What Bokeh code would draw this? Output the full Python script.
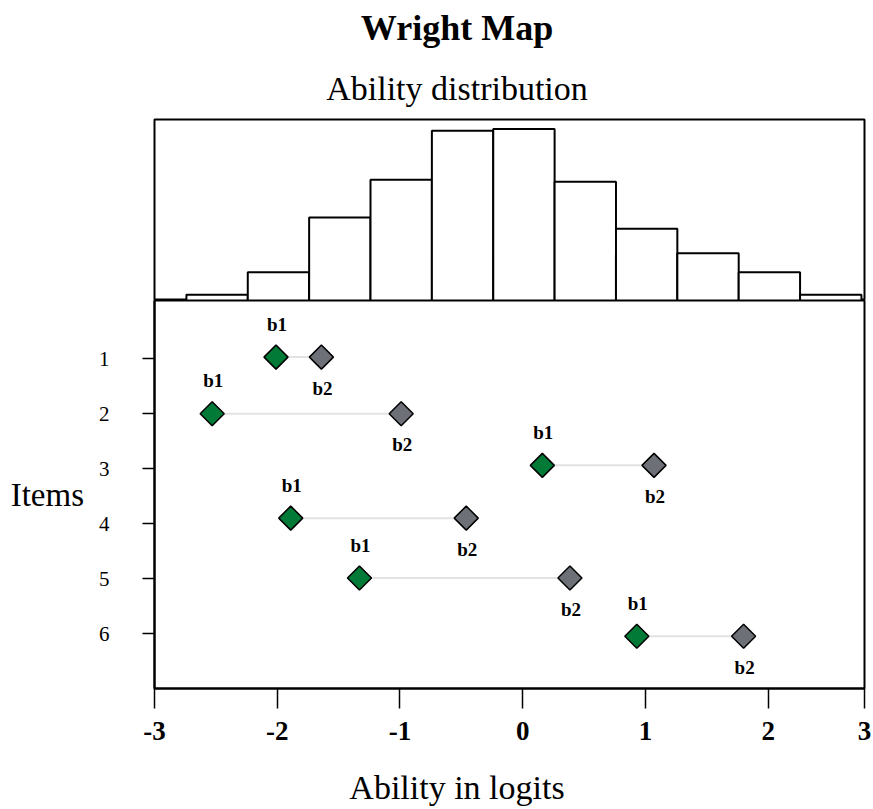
import numpy as np
from bokeh.plotting import figure
from bokeh.models import Range1d, FixedTicker, ColumnDataSource
from bokeh.layouts import column
from bokeh.embed import file_html
from bokeh.resources import INLINE
from bokeh.core.properties import value

# ---------------- data ----------------
TITLE = "Wright Map"
SUBTITLE = "Ability distribution"
X_LABEL = "Ability in logits"
Y_LABEL = "Items"

hist_edges = [-2.74, -2.24, -1.74, -1.24, -0.74, -0.24, 0.26, 0.76, 1.26, 1.76, 2.26, 2.76]
hist_counts = [3, 15, 44, 64, 90, 91, 63, 38, 25, 15, 3]
hist_ymax = 96

items = [1, 2, 3, 4, 5, 6]
item_y = [0.97, 2.0, 2.94, 3.9, 4.99, 6.05]
b1 = [-2.01, -2.53, 0.16, -1.89, -1.33, 0.93]
b2 = [-1.64, -0.99, 1.07, -0.46, 0.385, 1.80]
b1_text = ["b1"] * 6
b2_text = ["b2"] * 6

x_min, x_max = -3, 2.785
x_ticks = [-3, -2, -1, 0, 1, 2, 2.785]
x_tick_labels = ["-3", "-2", "-1", "0", "1", "2", "3"]

# ---------------- style ----------------
FONT = "Liberation Serif"
GREEN = "#007a36"
GREY = "#6e7078"
W = 872
ML, MR = 154, 8
HEADER_H = 117
FOOTER_H = 48
TEXT_X = 456.5   # horizontal centre of the titles / x label (page px)


def text_strip(height):
    """A blank strip (frame aligned with the plots) used for free text in pixel coordinates."""
    f = figure(width=W, height=height, x_range=Range1d(ML, W - MR), y_range=Range1d(height, 0),
               output_backend="svg", toolbar_location=None,
               x_axis_location=None, y_axis_location=None,
               min_border_left=ML, min_border_right=MR, min_border_top=0, min_border_bottom=0)
    f.grid.visible = False
    f.outline_line_color = None
    f.background_fill_color = "white"
    f.border_fill_color = "white"
    return f


xr = Range1d(x_min, x_max)

# ---------------- header: title + subtitle ----------------
header = text_strip(HEADER_H)
header.text(x=[TEXT_X], y=[27.5], text=[TITLE], text_align="center", text_baseline="alphabetic",
            text_font=value(FONT), text_font_style="bold", text_font_size="36px", text_color="black")
header.text(x=[TEXT_X], y=[87.5], text=[SUBTITLE], text_align="center", text_baseline="alphabetic",
            text_font=value(FONT), text_font_size="34px", text_color="black")

# ---------------- histogram ----------------
top = figure(width=W, height=183, x_range=xr, y_range=Range1d(0, hist_ymax),
             output_backend="svg", toolbar_location=None,
             x_axis_location=None, y_axis_location=None,
             min_border_left=ML, min_border_right=MR,
             min_border_top=2, min_border_bottom=0)
top.grid.visible = False
top.outline_line_color = "black"
top.outline_line_width = 2
top.background_fill_color = "white"
top.border_fill_color = "white"

hsrc = ColumnDataSource(dict(left=hist_edges[:-1], right=hist_edges[1:], top=hist_counts))
top.quad(left="left", right="right", bottom=0, top="top", source=hsrc,
         fill_color="white", line_color="black", line_width=2)

# ---------------- items panel ----------------
p = figure(width=W, height=460, x_range=xr, y_range=Range1d(7, -0.06),
           output_backend="svg", toolbar_location=None,
           min_border_left=ML, min_border_right=MR,
           min_border_top=0, min_border_bottom=72)
p.grid.visible = False
p.outline_line_color = "black"
p.outline_line_width = 2
p.background_fill_color = "white"
p.border_fill_color = "white"

p.xaxis.ticker = FixedTicker(ticks=x_ticks)
p.xaxis.major_label_overrides = {float(t): l for t, l in zip(x_ticks, x_tick_labels)}
p.xaxis.minor_tick_line_color = None
p.xaxis.major_tick_in = 0
p.xaxis.major_tick_out = 20
p.xaxis.major_tick_line_width = 1.5
p.xaxis.axis_line_width = 2
p.xaxis.major_label_standoff = 13
p.xaxis.major_label_text_font = FONT
p.xaxis.major_label_text_font_style = "bold"
p.xaxis.major_label_text_font_size = "27px"
p.xaxis.major_label_text_color = "black"

p.yaxis.ticker = FixedTicker(ticks=items)
p.yaxis.minor_tick_line_color = None
p.yaxis.major_tick_in = 0
p.yaxis.major_tick_out = 12
p.yaxis.major_tick_line_width = 1.5
p.yaxis.axis_line_width = 2
p.yaxis.major_label_standoff = 33
p.yaxis.major_label_text_font = FONT
p.yaxis.major_label_text_font_size = "21px"
p.yaxis.major_label_text_color = "black"

p.yaxis.axis_label = Y_LABEL
p.yaxis.axis_label_text_font = FONT
p.yaxis.axis_label_text_font_style = "normal"
p.yaxis.axis_label_text_font_size = "33px"
p.yaxis.axis_label_text_color = "black"
p.yaxis.axis_label_standoff = 12
yax = p.yaxis[0]
if "axis_label_orientation" in yax.properties():
    yax.axis_label_orientation = "horizontal"

src = ColumnDataSource(dict(b1=b1, b2=b2, y=item_y, t1=b1_text, t2=b2_text))
p.segment(x0="b1", y0="y", x1="b2", y1="y", source=src, line_color="#e2e2e2", line_width=2)
p.scatter(x="b1", y="y", source=src, marker="square", size=17, angle=np.pi / 4,
          fill_color=GREEN, line_color="black", line_width=1.5)
p.scatter(x="b2", y="y", source=src, marker="square", size=17, angle=np.pi / 4,
          fill_color=GREY, line_color="black", line_width=1.5)
p.text(x="b1", y="y", text="t1", source=src, x_offset=1, y_offset=-33,
       text_align="center", text_baseline="alphabetic",
       text_font=value(FONT), text_font_style="bold", text_font_size="19px", text_color="black")
p.text(x="b2", y="y", text="t2", source=src, x_offset=1, y_offset=31,
       text_align="center", text_baseline="alphabetic",
       text_font=value(FONT), text_font_style="bold", text_font_size="19px", text_color="black")

# ---------------- footer: x-axis title ----------------
footer = text_strip(FOOTER_H)
footer.text(x=[TEXT_X], y=[26.5], text=[X_LABEL], text_align="center", text_baseline="alphabetic",
            text_font=value(FONT), text_font_size="34px", text_color="black")

layout = column(header, top, p, footer, spacing=0)
open("out.html", "w").write(file_html(layout, INLINE))
